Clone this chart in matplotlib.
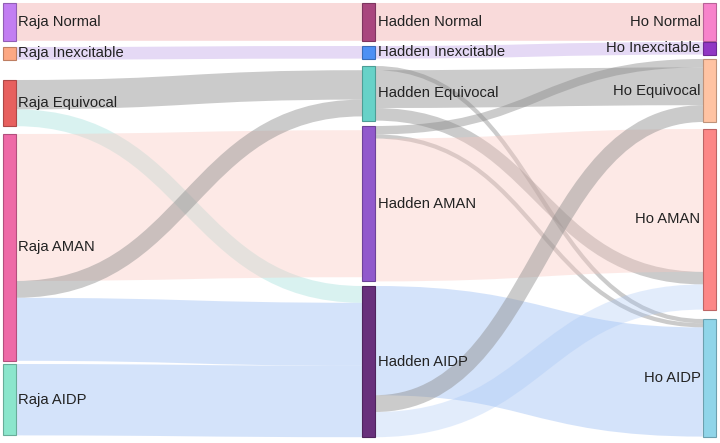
import matplotlib
matplotlib.use("Agg")
import matplotlib.pyplot as plt
from matplotlib.path import Path
from matplotlib.patches import PathPatch, Rectangle
from matplotlib.colors import to_rgb

# ---------------- data ----------------
raja_labels = ["Raja Normal", "Raja Inexcitable", "Raja Equivocal", "Raja AMAN", "Raja AIDP"]
hadden_labels = ["Hadden Normal", "Hadden Inexcitable", "Hadden Equivocal", "Hadden AMAN", "Hadden AIDP"]
ho_labels = ["Ho Normal", "Ho Inexcitable", "Ho Equivocal", "Ho AMAN", "Ho AIDP"]

# Raja -> Hadden links (listed in order of stacking at the source node)
rh_src = [0, 1, 2, 2, 3, 3, 3, 4]
rh_tgt = [0, 1, 2, 4, 3, 2, 4, 4]
rh_val = [9, 3, 7, 4, 35, 4, 15, 17]

# Hadden -> Ho links
hh_src = [0, 1, 2, 2, 2, 3, 3, 3, 4, 4, 4]
hh_tgt = [0, 1, 4, 2, 3, 2, 4, 3, 4, 2, 3]
hh_val = [9, 3, 1, 9, 3, 2, 1, 34, 26, 4, 6]

# ---------------- style / layout ----------------
raja_colors = ["#c27ef2", "#fca883", "#e7605e", "#ee6aa7", "#8be6cc"]
hadden_colors = ["#a9467e", "#4d90f4", "#67d2c8", "#9159cc", "#68307c"]
ho_colors = ["#f783cb", "#9137c4", "#ffc3a3", "#fc8787", "#90d5e9"]

PINK = (0.94, 0.59, 0.59, 0.35)
LAV = (0.75, 0.63, 0.90, 0.40)
GRAY = (0.55, 0.55, 0.55, 0.45)
TEAL = (0.63, 0.88, 0.86, 0.40)
AMANP = (0.98, 0.78, 0.75, 0.38)
BLUE = (0.63, 0.76, 0.96, 0.45)
LBLUE = (0.63, 0.76, 0.96, 0.30)
rh_colors = [PINK, LAV, GRAY, TEAL, AMANP, GRAY, BLUE, BLUE]
hh_colors = [PINK, LAV, GRAY, GRAY, GRAY, GRAY, GRAY, AMANP, BLUE, GRAY, LBLUE]

col_x = [3, 362, 703]
node_w = 13
scale = 4.2
raja_tops = [3, 47, 80, 134, 364]
hadden_tops = [3, 46, 66, 126, 286]
ho_tops = [3, 42, 59, 129, 319]
# order of incoming sources at each target node (default: source order)
hadden_in_order = {}
ho_in_order = {2: [3, 2, 4], 3: [3, 2, 4], 4: [2, 3, 4]}

# ---------------- compute node sizes ----------------
def sums(idx, vals, n):
    s = [0] * n
    for i, v in zip(idx, vals):
        s[i] += v
    return s

raja_size = sums(rh_src, rh_val, 5)
hadden_in = sums(rh_tgt, rh_val, 5)
hadden_out = sums(hh_src, hh_val, 5)
hadden_size = [max(a, b) for a, b in zip(hadden_in, hadden_out)]
ho_size = sums(hh_tgt, hh_val, 5)

fig = plt.figure(figsize=(7.2, 4.43), dpi=100)
ax = fig.add_axes([0, 0, 1, 1])
ax.set_xlim(0, 720)
ax.set_ylim(443, 0)
ax.axis("off")


def band(x0, y0, x1, y1, w, color):
    xm = (x0 + x1) / 2
    path = Path([(x0, y0), (xm, y0), (xm, y1), (x1, y1)],
                [Path.MOVETO, Path.CURVE4, Path.CURVE4, Path.CURVE4])
    ax.add_patch(PathPatch(path, facecolor="none", edgecolor=color,
                           lw=w * 0.72, capstyle="butt", zorder=1))


def draw_links(src, tgt, val, colors, xs, xt, s_tops, s_size, s_out,
               t_tops, t_size, t_in, in_order):
    n = len(src)
    # source positions (stack in list order, centred in node)
    s_cursor = [s_tops[i] + (s_size[i] - s_out[i]) * scale / 2 for i in range(5)]
    ys = [0] * n
    for k in range(n):
        w = val[k] * scale
        ys[k] = s_cursor[src[k]] + w / 2
        s_cursor[src[k]] += w
    # target positions
    t_cursor = [t_tops[i] + (t_size[i] - t_in[i]) * scale / 2 for i in range(5)]
    yt = [0] * n
    for t in range(5):
        ks = [k for k in range(n) if tgt[k] == t]
        if t in in_order:
            order = in_order[t]
            ks.sort(key=lambda k: order.index(src[k]))
        for k in ks:
            w = val[k] * scale
            yt[k] = t_cursor[t] + w / 2
            t_cursor[t] += w
    for k in range(n):
        band(xs, ys[k], xt, yt[k], val[k] * scale, colors[k])


draw_links(rh_src, rh_tgt, rh_val, rh_colors, col_x[0] + node_w, col_x[1],
           raja_tops, raja_size, raja_size, hadden_tops, hadden_size, hadden_in,
           hadden_in_order)
draw_links(hh_src, hh_tgt, hh_val, hh_colors, col_x[1] + node_w, col_x[2],
           hadden_tops, hadden_size, hadden_out, ho_tops, ho_size, ho_size,
           ho_in_order)


def draw_nodes(x, tops, sizes, colors, labels, side):
    for top, s, c, lab in zip(tops, sizes, colors, labels):
        h = s * scale
        edge = tuple(v * 0.75 for v in to_rgb(c))
        ax.add_patch(Rectangle((x, top), node_w, h, facecolor=c, edgecolor=edge,
                               lw=0.8, zorder=3))
        if side == "right":
            ax.text(x + node_w + 2.5, top + h / 2, lab, ha="left", va="center",
                    fontsize=10.6, color="#222222", family="Liberation Sans", zorder=4)
        else:
            ax.text(x - 2.5, top + h / 2, lab, ha="right", va="center",
                    fontsize=10.6, color="#222222", family="Liberation Sans", zorder=4)


draw_nodes(col_x[0], raja_tops, raja_size, raja_colors, raja_labels, "right")
draw_nodes(col_x[1], hadden_tops, hadden_size, hadden_colors, hadden_labels, "right")
draw_nodes(col_x[2], ho_tops, ho_size, ho_colors, ho_labels, "left")

fig.savefig("out.png", dpi=100)
